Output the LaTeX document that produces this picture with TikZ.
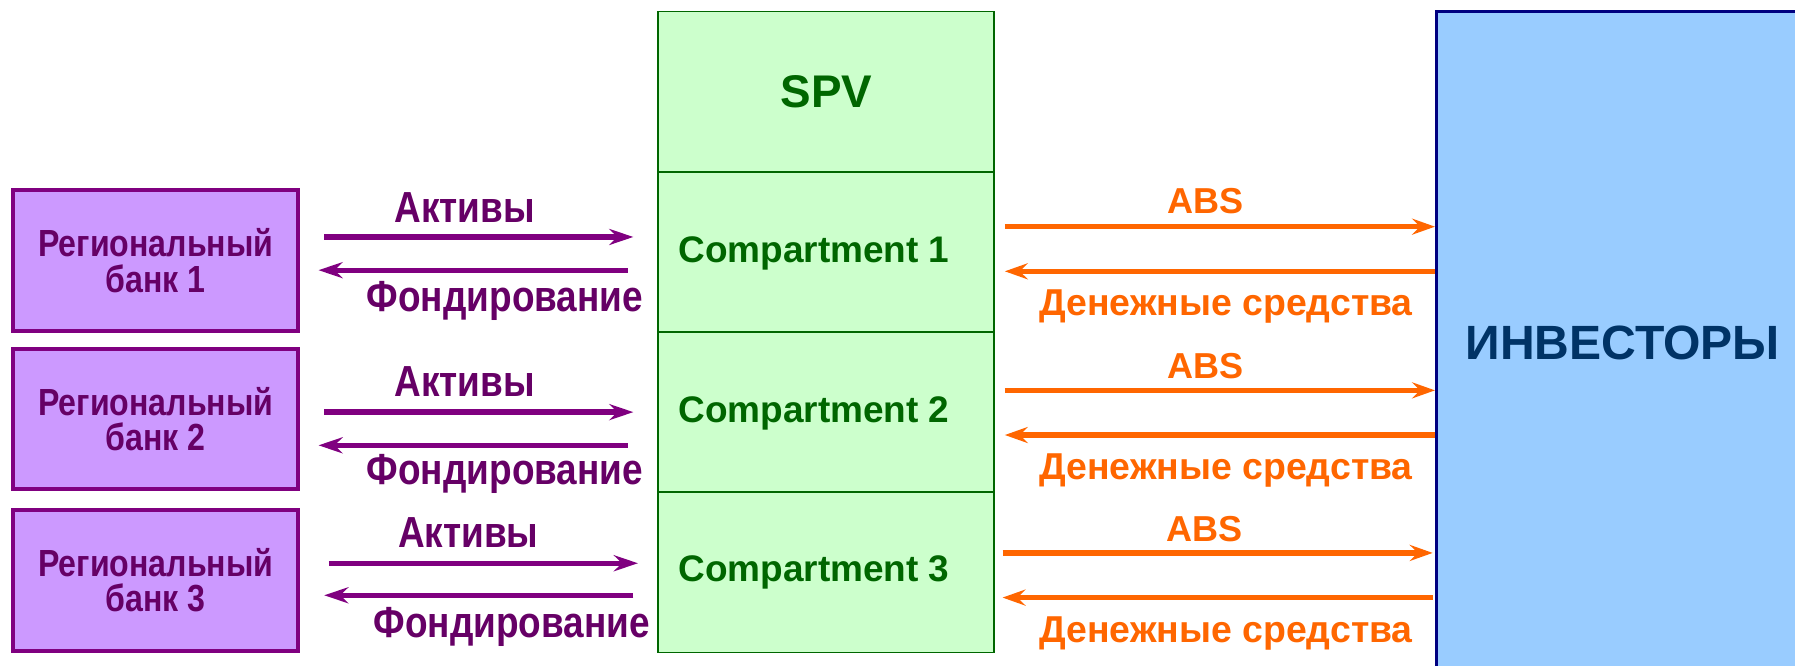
\documentclass[tikz,border=0pt]{standalone}
\usepackage{fontspec}
\setmainfont{Liberation Sans}
\newfontfamily\narrowfont[FakeStretch=0.85]{Liberation Sans}
\usetikzlibrary{arrows.meta}
\definecolor{bankfill}{HTML}{CC99FF}
\definecolor{bankline}{HTML}{800080}
\definecolor{banktext}{HTML}{660066}
\definecolor{spvfill}{HTML}{CCFFCC}
\definecolor{spvline}{HTML}{006600}
\definecolor{spvtext}{HTML}{006600}
\definecolor{invfill}{HTML}{99CCFF}
\definecolor{invline}{HTML}{000080}
\definecolor{invtext}{HTML}{003366}
\definecolor{orng}{HTML}{FF6600}
\begin{document}
\begin{tikzpicture}[x=1pt,y=1pt,
  bank/.style={draw=bankline, fill=bankfill, line width=3.5pt, minimum width=249pt, minimum height=123pt, inner sep=0pt, text=banktext, align=center, font=\narrowfont\bfseries\fontsize{33}{31}\selectfont},
  cell/.style={draw=spvline, fill=spvfill, line width=1.5pt, minimum width=293pt, minimum height=140pt, inner sep=0pt},
  ctext/.style={text=spvtext, inner sep=0pt, font=\bfseries\fontsize{32.3}{34}\selectfont},
  plab/.style={text=banktext, inner sep=0pt, font=\narrowfont\bfseries\fontsize{38}{40}\selectfont},
  olab/.style={text=orng, inner sep=0pt, font=\bfseries\fontsize{31.5}{33}\selectfont},
  dlab/.style={text=orng, inner sep=0pt, font=\bfseries\fontsize{32.7}{34}\selectfont},
  parr/.style={draw=bankline, line width=4.6pt, -{Stealth[length=21pt,width=14pt,inset=7pt]}},
  oarr/.style={draw=orng, line width=4.8pt, -{Stealth[length=20pt,width=14pt,inset=7pt]}}
]
\useasboundingbox (0,0) rectangle (1568,-581);
\fill[white] (0,0) rectangle (1568,-581);
\clip (0,0) rectangle (1568,-581);

% banks
\node[bank] (b1) at (136,-227.5) {Региональный\\банк 1};
\node[bank] (b2) at (136,-366) {Региональный\\банк 2};
\node[bank] (b3) at (136,-507) {Региональный\\банк 3};

% SPV column
\node[cell] (spv) at (721.5,-80) {};
\node[cell] (c1) at (721.5,-220) {};
\node[cell] (c2) at (721.5,-360) {};
\node[cell] (c3) at (721.5,-500) {};
\node[text=spvtext, inner sep=0pt, font=\bfseries\fontsize{40}{42}\selectfont] (spvt) at (722,-80) {SPV};
\node[ctext] (c1t) at (711,-221) {Compartment 1};
\node[ctext] (c2t) at (711,-361) {Compartment 2};
\node[ctext] (c3t) at (711,-500) {Compartment 3};

% investors
\node[draw=invline, fill=invfill, line width=3pt, minimum width=325pt, minimum height=580pt, inner sep=0pt, text=invtext, font=\bfseries\fontsize{42}{44}\selectfont] (inv) at (1417.5,-300) {ИНВЕСТОРЫ};

% left arrows
\draw[parr, shorten <=21pt, shorten >=21pt] (b1.east |- 0,-207) -- (c1.west |- 0,-207);
\draw[parr, shorten <=26pt, shorten >=16pt] (c1.west |- 0,-236) -- (b1.east |- 0,-236);
\draw[parr, shorten <=21pt, shorten >=21pt] (b2.east |- 0,-360) -- (c2.west |- 0,-360);
\draw[parr, shorten <=26pt, shorten >=16pt] (c2.west |- 0,-389) -- (b2.east |- 0,-389);
\draw[parr, shorten <=25pt, shorten >=17pt] (b3.east |- 0,-492) -- (c3.west |- 0,-492);
\draw[parr, shorten <=21pt, shorten >=21pt] (c3.west |- 0,-520) -- (b3.east |- 0,-520);

\node[plab] (a1) at (406,-181) {Активы};
\node[plab] (f1) at (441,-263) {Фондирование};
\node[plab] (a2) at (406,-333) {Активы};
\node[plab] (f2) at (441,-414) {Фондирование};
\node[plab] (a3) at (409,-465) {Активы};
\node[plab] (f3) at (447,-548) {Фондирование};

% right arrows
\draw[oarr, shorten <=9pt, shorten >=0pt] (c1.east |- 0,-198) -- (inv.west |- 0,-198);
\draw[oarr, shorten <=0pt, shorten >=9pt] (inv.west |- 0,-237) -- (c1.east |- 0,-237);
\draw[oarr, shorten <=9pt, shorten >=0pt] (c2.east |- 0,-341) -- (inv.west |- 0,-341);
\draw[oarr, shorten <=0pt, shorten >=9pt] (inv.west |- 0,-380) -- (c2.east |- 0,-380);
\draw[oarr, shorten <=7pt, shorten >=2pt] (c3.east |- 0,-483) -- (inv.west |- 0,-483);
\draw[oarr, shorten <=2pt, shorten >=7pt] (inv.west |- 0,-522) -- (c3.east |- 0,-522);

\node[olab] (s1) at (1053,-176) {ABS};
\node[dlab] (d1) at (1071,-268) {Денежные средства};
\node[olab] (s2) at (1053,-320) {ABS};
\node[dlab] (d2) at (1071,-411) {Денежные средства};
\node[olab] (s3) at (1052,-462) {ABS};
\node[dlab] (d3) at (1071,-553) {Денежные средства};
\end{tikzpicture}
\end{document}
